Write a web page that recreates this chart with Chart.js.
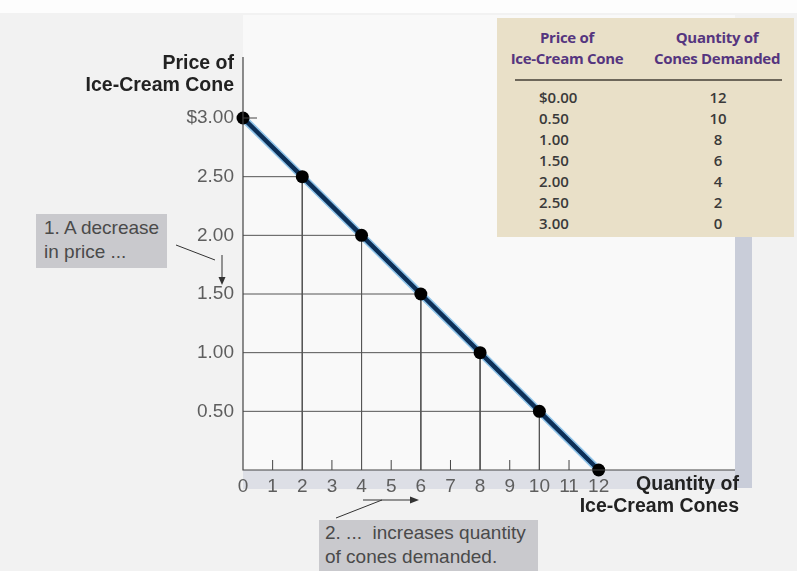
<!DOCTYPE html>
<html>
<head>
<meta charset="utf-8">
<script src="https://cdn.jsdelivr.net/npm/chart.js@4"></script>
<style>
  html, body { margin: 0; padding: 0; }
  body { width: 797px; height: 571px; background: #f2f2f2; position: relative; overflow: hidden;
         font-family: "Liberation Sans", Arial, sans-serif; }
  #wrap { position: absolute; left: 0; top: 0; width: 797px; height: 571px; }
  .lbl { position: absolute; white-space: nowrap; }
  .axtitle { font-weight: bold; font-size: 19.5px; color: #222; text-align: right; line-height: 22px; }
  .note { position: absolute; background: #c9c9cd; color: #4a4a4a; font-size: 19px; line-height: 24px; }
  #tbl { position: absolute; left: 497px; top: 18px; width: 297px; height: 219px; background: #e9e0c8;
         font-family: "Open Sans", sans-serif; }
  #tbl .hd { position: absolute; top: 9px; color: #55357f; font-weight: bold; font-size: 15px;
             line-height: 21px; text-align: center; letter-spacing: -0.3px; }
  #tbl .rule { position: absolute; left: 18px; top: 61px; width: 267px; height: 2px; background: #6d675a; }
  #tbl .row { position: absolute; font-size: 15px; font-weight: 600; color: #3a3a3a; line-height: 21px; }
</style>
</head>
<body>
<div id="wrap"><canvas id="c" width="797" height="571"></canvas></div>

<div class="lbl axtitle" style="left:40px; top:51px; width:194px;">Price of<br>Ice-Cream Cone</div>
<div class="lbl axtitle" style="left:540px; top:472px; width:199px;">Quantity of<br>Ice-Cream Cones</div>

<div class="note" style="left:36px; top:214px; width:131px; height:54px; padding-left:8px; padding-top:2px; box-sizing:border-box;">1. A decrease<br>in price ...</div>
<div class="note" style="left:319px; top:520px; width:219px; height:51px; padding-left:6px; padding-top:1px; box-sizing:border-box;">2. ...&nbsp; increases quantity<br>of cones demanded.</div>

<div id="tbl"></div>

<script>
// demand schedule
const prices = [3.00, 2.50, 2.00, 1.50, 1.00, 0.50, 0.00];
const quantities = [0, 2, 4, 6, 8, 10, 12];
const priceTicks = [0.5, 1.0, 1.5, 2.0, 2.5, 3.0];
const priceTickLabels = ['0.50', '1.00', '1.50', '2.00', '2.50', '$3.00'];
const qtyTicks = [0, 1, 2, 3, 4, 5, 6, 7, 8, 9, 10, 11, 12];
const tablePrices = ['$0.00', '0.50', '1.00', '1.50', '2.00', '2.50', '3.00'];
const tableQtys = ['12', '10', '8', '6', '4', '2', '0'];

// table
const tbl = document.getElementById('tbl');
tbl.innerHTML =
  '<div class="hd" style="left:6px;width:128px;">Price of<br>Ice-Cream Cone</div>' +
  '<div class="hd" style="left:146px;width:148px;">Quantity of<br>Cones Demanded</div>' +
  '<div class="rule"></div>';
tablePrices.forEach((p, i) => {
  tbl.innerHTML += '<div class="row" style="left:42px;top:' + (69 + i * 21) + 'px;">' + p + '</div>';
  tbl.innerHTML += '<div class="row" style="left:201px;width:40px;text-align:center;top:' + (69 + i * 21) + 'px;">' + tableQtys[i] + '</div>';
});

const points = quantities.map((q, i) => ({ x: q, y: prices[i] }));

// thin drop lines from each interior point to both axes
const dropSets = points.filter(p => p.x > 0 && p.y > 0).map(p => ({
  data: [{ x: 0, y: p.y }, { x: p.x, y: p.y }, { x: p.x, y: 0 }],
  borderColor: '#555',
  borderWidth: 1,
  pointRadius: 0,
  showLine: true,
  order: 5
}));

const backdrop = {
  id: 'backdrop',
  beforeDraw(chart) {
    const { ctx, chartArea: a } = chart;
    ctx.save();
    ctx.fillStyle = '#fdfdfd';
    ctx.fillRect(0, 0, 797, 13);
    // plot panel + shadow
    ctx.fillStyle = '#f9f9f9';
    ctx.fillRect(a.left, 15, a.right - a.left, a.bottom - 15);
    ctx.fillStyle = '#c9cdd9';
    ctx.fillRect(a.right, 237, 17, a.bottom - 237 + 18);
    ctx.fillStyle = '#dddfe6';
    ctx.fillRect(a.left, a.bottom, a.right - a.left, 19);
    ctx.restore();
  },
  afterDraw(chart) {
    const { ctx, chartArea: a, scales } = chart;
    ctx.save();
    ctx.strokeStyle = '#444';
    ctx.lineWidth = 1.2;
    // axes
    ctx.beginPath();
    ctx.moveTo(a.left, a.top); ctx.lineTo(a.left, a.bottom); ctx.lineTo(a.right, a.bottom);
    ctx.stroke();
    // small upward ticks on odd quantities
    ctx.lineWidth = 1;
    qtyTicks.filter(v => v % 2 === 1).forEach(v => {
      const x = scales.x.getPixelForValue(v);
      ctx.beginPath(); ctx.moveTo(x, a.bottom); ctx.lineTo(x, a.bottom - 10); ctx.stroke();
    });
    // tick at $3.00
    const y3 = scales.y.getPixelForValue(3);
    ctx.beginPath(); ctx.moveTo(a.left, y3); ctx.lineTo(a.left + 14, y3); ctx.stroke();
    // annotation 1 arrows
    ctx.strokeStyle = '#333';
    ctx.beginPath(); ctx.moveTo(176, 245); ctx.lineTo(215, 260); ctx.stroke();
    ctx.beginPath(); ctx.moveTo(222, 255); ctx.lineTo(222, 281); ctx.stroke();
    ctx.fillStyle = '#333';
    ctx.beginPath(); ctx.moveTo(218.5, 277); ctx.lineTo(225.5, 277); ctx.lineTo(222, 285); ctx.closePath(); ctx.fill();
    // annotation 2 arrows
    ctx.beginPath(); ctx.moveTo(336, 518); ctx.lineTo(382, 500); ctx.stroke();
    ctx.beginPath(); ctx.moveTo(363, 500); ctx.lineTo(414, 500); ctx.stroke();
    ctx.beginPath(); ctx.moveTo(410, 496.5); ctx.lineTo(419, 500); ctx.lineTo(410, 503.5); ctx.closePath(); ctx.fill();
    ctx.restore();
  }
};

new Chart(document.getElementById('c'), {
  type: 'scatter',
  data: {
    datasets: [
      ...dropSets,
      {
        data: points,
        showLine: true,
        borderColor: '#8fc3e8',
        borderWidth: 7.5,
        pointRadius: 0,
        clip: false,
        order: 3
      },
      {
        data: points,
        showLine: true,
        borderColor: '#0c2f57',
        borderWidth: 4.5,
        pointRadius: 6.5,
        pointBorderWidth: 0,
        pointBackgroundColor: '#000',
        clip: false,
        order: 1
      }
    ]
  },
  options: {
    responsive: false,
    animation: false,
    layout: { padding: { left: 0, top: 57, right: 62, bottom: 71 } },
    plugins: { legend: { display: false }, tooltip: { enabled: false } },
    scales: {
      x: {
        type: 'linear',
        min: 0,
        max: 16.6,
        afterFit: s => { s.height = 30; },
        afterBuildTicks: s => { s.ticks = qtyTicks.map(v => ({ value: v })); },
        grid: { display: false, drawTicks: false },
        border: { display: false },
        ticks: {
          padding: 5,
          color: '#5e5e5e',
          font: { family: 'Liberation Sans', size: 19 },
          maxRotation: 0,
          autoSkip: false
        }
      },
      y: {
        type: 'linear',
        min: 0,
        max: 3.52,
        afterFit: s => { s.width = 243; },
        afterBuildTicks: s => { s.ticks = priceTicks.map(v => ({ value: v })); },
        grid: { display: false, drawTicks: false },
        border: { display: false },
        ticks: {
          padding: 9,
          color: '#5e5e5e',
          font: { family: 'Liberation Sans', size: 19 },
          callback: v => priceTickLabels[priceTicks.indexOf(v)]
        }
      }
    }
  },
  plugins: [backdrop]
});
</script>
</body>
</html>
